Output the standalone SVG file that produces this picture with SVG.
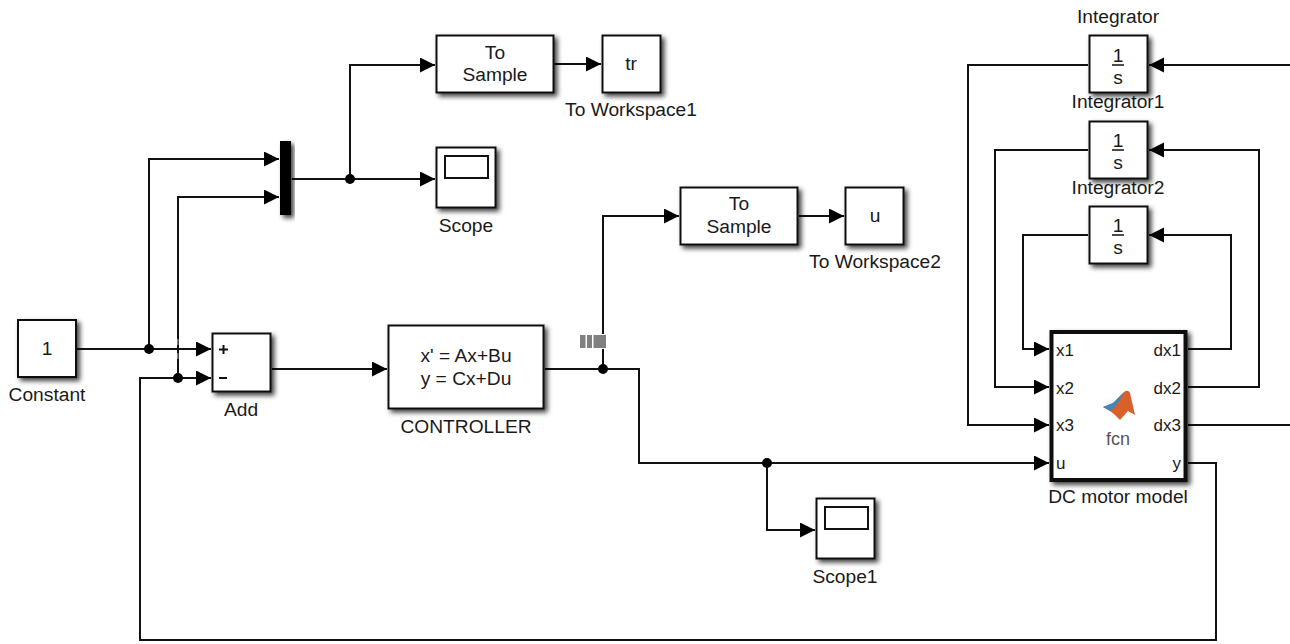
<svg xmlns="http://www.w3.org/2000/svg" width="1290" height="644" viewBox="0 0 1290 644">
<style>
text{font-family:"Liberation Sans",Arial,sans-serif;font-size:19.200px;fill:#1a1a1a;text-anchor:middle}
.b{fill:#fff;stroke:#111;stroke-width:2;filter:url(#sh)}
.w{fill:none;stroke:#111;stroke-width:2}
.d{fill:#000}
text.p{font-size:17px}
</style>
<defs>
<filter id="sh" x="-20%" y="-20%" width="150%" height="150%"><feDropShadow dx="3" dy="3" stdDeviation="2.500" flood-color="#000" flood-opacity=".75"/></filter>
<marker id="a" markerUnits="userSpaceOnUse" markerWidth="16" markerHeight="16" refX="15" refY="7.500" orient="auto"><path d="M0 0L15 7.500L0 15Z" fill="#000"/></marker>
</defs>
<rect width="1290" height="644" fill="#fff"/>
<g id="connectors">
<path class="w" d="M77 349H211" marker-end="url(#a)"/>
<path class="w" d="M149 349V159H279" marker-end="url(#a)"/>
<path class="w" d="M178 378V197H279" marker-end="url(#a)"/>
<path class="w" d="M1188 463H1216V640H140V378H211" marker-end="url(#a)"/>
<path class="w" d="M292 179H435" marker-end="url(#a)"/>
<path class="w" d="M350 179V65H435" marker-end="url(#a)"/>
<path class="w" d="M554 64H601" marker-end="url(#a)"/>
<path class="w" d="M272 369H387" marker-end="url(#a)"/>
<path class="w" d="M545 369H639V463H1049" marker-end="url(#a)"/>
<path class="w" d="M603 369V216H679" marker-end="url(#a)"/>
<path class="w" d="M799 216H844" marker-end="url(#a)"/>
<path class="w" d="M767 463V530H815" marker-end="url(#a)"/>
<path class="w" d="M1290 65H1149" marker-end="url(#a)"/>
<path class="w" d="M1188 387H1259V150H1149" marker-end="url(#a)"/>
<path class="w" d="M1188 349H1231V235H1149" marker-end="url(#a)"/>
<path class="w" d="M1188 425H1290"/>
<path class="w" d="M1088 65H968V425H1049" marker-end="url(#a)"/>
<path class="w" d="M1088 150H995V387H1049" marker-end="url(#a)"/>
<path class="w" d="M1088 235H1023V349H1049" marker-end="url(#a)"/>
<circle class="d" cx="149" cy="349" r="5"/>
<circle class="d" cx="178" cy="378" r="5"/>
<circle class="d" cx="350" cy="179" r="5"/>
<circle class="d" cx="603" cy="369" r="5"/>
<circle class="d" cx="767" cy="463" r="5"/>
<path fill="#808080" d="M177 339h1.500v6h-1.500ZM177 353h1.500v6h-1.500Z"/>
<path fill="#fff" d="M578 334h30v15h-30Z"/>
<path fill="#808080" d="M580 335h5.500v13h-5.500ZM587 335h5v13h-5ZM593.500 335h12.500v13h-12.500Z"/>
</g>
<g id="constant"><rect class="b" x="18" y="320" width="58" height="57"/><text x="47" y="355">1</text><text x="47" y="401">Constant</text></g>
<g id="add"><rect class="b" x="212.500" y="333.500" width="58" height="58"/><path d="M219 349.500h9M223.500 345v9M219 378h8" stroke="#111" stroke-width="2"/><text x="241" y="416">Add</text></g>
<g id="mux"><rect x="280" y="141" width="11" height="74" fill="#000" filter="url(#sh)"/></g>
<g id="to-sample-1"><rect class="b" x="436.500" y="35.500" width="117" height="57"/><text x="495" y="59">To</text><text x="495" y="81">Sample</text></g>
<g id="to-workspace-1"><rect class="b" x="602.500" y="35.500" width="58" height="57"/><text x="631" y="70">tr</text><text x="631" y="116">To Workspace1</text></g>
<g id="scope"><rect class="b" x="436.500" y="147.500" width="59" height="60"/><rect x="445" y="156" width="43" height="22" fill="#fff" stroke="#111" stroke-width="2"/><text x="466" y="232">Scope</text></g>
<g id="to-sample-2"><rect class="b" x="680.500" y="187.500" width="117" height="57"/><text x="739" y="210">To</text><text x="739" y="233">Sample</text></g>
<g id="to-workspace-2"><rect class="b" x="845.500" y="187.500" width="58" height="57"/><text x="875" y="222">u</text><text x="875" y="268">To Workspace2</text></g>
<g id="controller"><rect class="b" x="388.500" y="325.500" width="155" height="83"/><text x="466" y="362">x' = Ax+Bu</text><text x="466" y="385">y = Cx+Du</text><text x="466" y="433">CONTROLLER</text></g>
<g id="scope1"><rect class="b" x="816.500" y="498.500" width="58" height="60"/><rect x="825" y="507" width="43" height="22" fill="#fff" stroke="#111" stroke-width="2"/><text x="845" y="583">Scope1</text></g>
<g id="integrator"><text x="1118" y="23">Integrator</text><rect class="b" x="1089.500" y="35.500" width="58" height="57"/><text x="1118" y="62">1</text><path d="M1112 65h12" stroke="#111" stroke-width="1.500"/><text x="1118" y="84">s</text></g>
<g id="integrator1"><text x="1118" y="108">Integrator1</text><rect class="b" x="1089.500" y="121.500" width="58" height="57"/><text x="1118" y="147">1</text><path d="M1112 150h12" stroke="#111" stroke-width="1.500"/><text x="1118" y="169">s</text></g>
<g id="integrator2"><text x="1118" y="194">Integrator2</text><rect class="b" x="1089.500" y="206.500" width="58" height="57"/><text x="1118" y="232">1</text><path d="M1112 235h12" stroke="#111" stroke-width="1.500"/><text x="1118" y="254">s</text></g>
<g id="dc-motor"><rect class="b" x="1051.500" y="332" width="134" height="148" style="stroke-width:4"/>
<text class="p" x="1056" y="356" style="text-anchor:start">x1</text><text class="p" x="1056" y="394" style="text-anchor:start">x2</text><text class="p" x="1056" y="431" style="text-anchor:start">x3</text><text class="p" x="1056" y="469" style="text-anchor:start">u</text><text class="p" x="1181" y="356" style="text-anchor:end">dx1</text><text class="p" x="1181" y="394" style="text-anchor:end">dx2</text><text class="p" x="1181" y="431" style="text-anchor:end">dx3</text><text class="p" x="1181" y="469" style="text-anchor:end">y</text>
<path d="M1103 407L1113 403L1124 392Q1128 389 1130 393L1135 415L1128 411L1120 420Q1113 412 1103 407Z" fill="#d8602a"/>
<path d="M1103 407L1113 403L1124 392L1121 398L1115 407L1110 411Z" fill="#3f88b8"/>
<text x="1118" y="445" style="font-size:18px;fill:#555">fcn</text>
<text x="1118" y="503">DC motor model</text></g>
</svg>
